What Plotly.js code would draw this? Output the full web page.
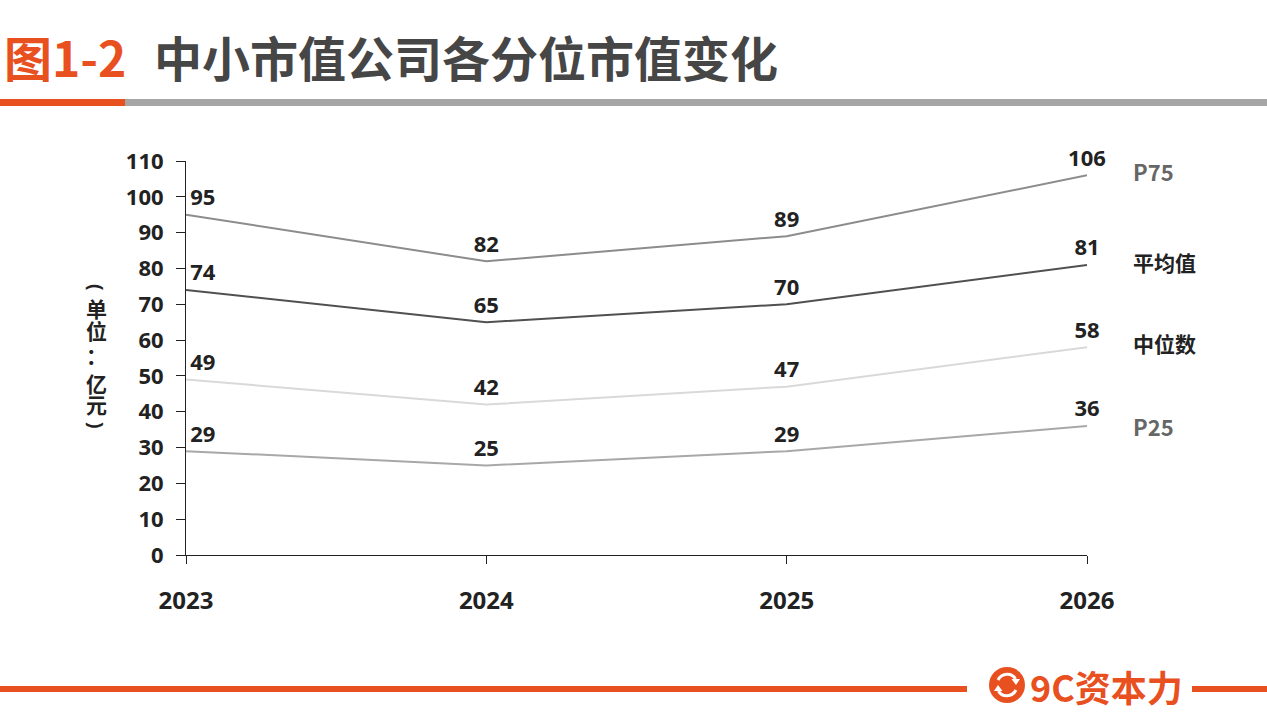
<!DOCTYPE html>
<html>
<head>
<meta charset="utf-8">
<script src="https://cdn.plot.ly/plotly-3.0.1.min.js"></script>
<style>
  html, body { margin: 0; padding: 0; background: #fff; }
  #chart { width: 1267px; height: 713px; }
</style>
</head>
<body>
<div id="chart"></div>
<script>
// values
var years = ['2023', '2024', '2025', '2026'];
var seriesNames = ['P75', '平均值', '中位数', 'P25'];
var p75 = [95, 82, 89, 106];
var meanVals = [74, 65, 70, 81];
var medianVals = [49, 42, 47, 58];
var p25 = [29, 25, 29, 36];

var seriesValues = [p75, meanVals, medianVals, p25];
var lineColors = ['#8c8c8c', '#505050', '#d9d9d9', '#a8a8a8'];
var nameColors = ['#666666', '#222222', '#222222', '#666666'];
var nameShift = [4, 3, 4, 0];
// vertical unit label: glyph, row centre (px), rotation
var yTitleChars = ['(', '单', '位', '：', '亿', '元', ')'];
var yTitlePix = [287, 308, 330, 355, 383, 404, 425];
var yTitleRot = [90, 0, 0, 0, 0, 0, 90];

var W = 1267, H = 713;
var L = 186, R = 180, T = 161, B = 158;
var pw = W - L - R, ph = H - T - B;
function px(x) { return (x - L) / pw; }
function py(y) { return (H - B - y) / ph; }

var orange = '#e9501f';
var numFont = {family: 'Noto Sans, Open Sans, sans-serif', size: 22, color: '#222222', weight: 'bold'};
var cjkFont = 'Noto Sans CJK SC, Noto Sans, sans-serif';

var traces = [];
for (var i = 0; i < seriesValues.length; i++) {
  var pos = [];
  for (var j = 0; j < years.length; j++) pos.push(j == 0 ? 'top right' : 'top center');
  traces.push({
    x: years,
    y: seriesValues[i],
    name: seriesNames[i],
    type: 'scatter',
    mode: 'lines+markers+text',
    marker: {size: 5, opacity: 0},
    text: seriesValues[i].map(String),
    textposition: pos,
    textfont: numFont,
    line: {color: lineColors[i], width: 2},
    cliponaxis: false,
    hoverinfo: 'skip'
  });
}

var annotations = [];
// series names at the right end
for (var i = 0; i < seriesNames.length; i++) {
  annotations.push({
    xref: 'x', yref: 'y', x: 3, y: seriesValues[i][3],
    xanchor: 'left', yanchor: 'middle', xshift: 44, yshift: nameShift[i],
    text: seriesNames[i], showarrow: false,
    font: {family: cjkFont, size: seriesNames[i].indexOf('P') == 0 ? 22 : 21, color: nameColors[i], weight: 'bold'}
  });
}
// vertical unit label, one glyph per row
for (var k = 0; k < yTitleChars.length; k++) {
  annotations.push({
    xref: 'paper', yref: 'paper', x: px(96), y: py(yTitlePix[k]),
    xanchor: 'center', yanchor: 'middle', text: yTitleChars[k], showarrow: false,
    textangle: yTitleRot[k],
    font: {family: yTitleRot[k] ? 'Noto Sans, sans-serif' : cjkFont, size: yTitleRot[k] ? 19 : 21,
           color: '#222222', weight: 'bold'}
  });
}
// page title
annotations.push({
  xref: 'paper', yref: 'paper', x: px(2), y: py(56), xanchor: 'left', yanchor: 'middle',
  text: '图1-2', showarrow: false,
  font: {family: cjkFont, size: 48, color: orange, weight: 'bold'}
});
annotations.push({
  xref: 'paper', yref: 'paper', x: px(152), y: py(56), xanchor: 'left', yanchor: 'middle',
  text: '中小市值公司各分位市值变化', showarrow: false,
  font: {family: cjkFont, size: 48, color: '#464646', weight: 'bold'}
});
// footer brand
annotations.push({
  xref: 'paper', yref: 'paper', x: px(1028), y: py(686), xanchor: 'left', yanchor: 'middle',
  text: '9C资本力', showarrow: false,
  font: {family: cjkFont, size: 36, color: orange, weight: 'bold'}
});

var logoX = px(1007), logoY = py(685);
var shapes = [
  // title underline
  {type: 'rect', xref: 'paper', yref: 'paper', x0: px(0), x1: px(125), y0: py(106), y1: py(99),
   fillcolor: orange, line: {width: 0}},
  {type: 'rect', xref: 'paper', yref: 'paper', x0: px(125), x1: px(1267), y0: py(106), y1: py(99),
   fillcolor: '#a6a6a6', line: {width: 0}},
  // footer lines
  {type: 'rect', xref: 'paper', yref: 'paper', x0: px(0), x1: px(967), y0: py(692), y1: py(686),
   fillcolor: orange, line: {width: 0}},
  {type: 'rect', xref: 'paper', yref: 'paper', x0: px(1192), x1: px(1267), y0: py(692), y1: py(686),
   fillcolor: orange, line: {width: 0}},
  // logo
  {type: 'circle', xref: 'paper', yref: 'paper', xsizemode: 'pixel', ysizemode: 'pixel',
   xanchor: logoX, yanchor: logoY, x0: -18, x1: 18, y0: -18, y1: 18,
   fillcolor: orange, line: {width: 0}},
  {type: 'path', xref: 'paper', yref: 'paper', xsizemode: 'pixel', ysizemode: 'pixel',
   xanchor: logoX, yanchor: logoY, path: 'M-9,5 C-5,12.5 5,12.5 8.5,6',
   line: {color: '#ffffff', width: 3}},
  {type: 'path', xref: 'paper', yref: 'paper', xsizemode: 'pixel', ysizemode: 'pixel',
   xanchor: logoX, yanchor: logoY, path: 'M4.5,6 L13,6 L9,0 Z',
   fillcolor: '#ffffff', line: {width: 0}},
  {type: 'path', xref: 'paper', yref: 'paper', xsizemode: 'pixel', ysizemode: 'pixel',
   xanchor: logoX, yanchor: logoY, path: 'M9,-5 C5,-12.5 -5,-12.5 -8.5,-6',
   line: {color: '#ffffff', width: 3}},
  {type: 'path', xref: 'paper', yref: 'paper', xsizemode: 'pixel', ysizemode: 'pixel',
   xanchor: logoX, yanchor: logoY, path: 'M-4.5,-6 L-13,-6 L-9,0 Z',
   fillcolor: '#ffffff', line: {width: 0}}
];

var layout = {
  width: W, height: H,
  margin: {l: L, r: R, t: T, b: B, pad: 0},
  paper_bgcolor: '#ffffff', plot_bgcolor: '#ffffff',
  showlegend: false,
  font: {family: 'Noto Sans, sans-serif', color: '#222222'},
  xaxis: {
    type: 'category', range: [0, 3], showgrid: false, zeroline: false,
    showline: true, linecolor: '#222222', linewidth: 1,
    ticks: 'outside', ticklen: 8, tickcolor: '#222222', tickwidth: 1,
    ticklabelstandoff: 16,
    tickfont: {family: 'Noto Sans, Open Sans, sans-serif', size: 24, color: '#222222', weight: 'bold'},
    fixedrange: true
  },
  yaxis: {
    range: [0, 110], dtick: 10, tick0: 0, showgrid: false, zeroline: false,
    showline: true, linecolor: '#222222', linewidth: 1,
    ticks: 'outside', ticklen: 9, tickcolor: '#222222', tickwidth: 1,
    ticklabelstandoff: 8,
    tickfont: numFont, fixedrange: true
  },
  annotations: annotations,
  shapes: shapes
};

Plotly.newPlot('chart', traces, layout, {displayModeBar: false, staticPlot: true});
</script>
</body>
</html>
